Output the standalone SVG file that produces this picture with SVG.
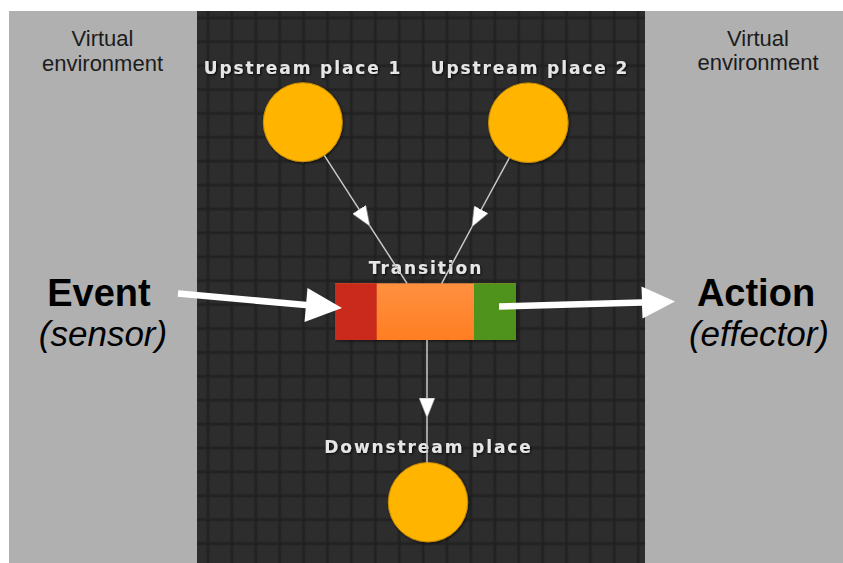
<svg xmlns="http://www.w3.org/2000/svg" width="843" height="563" viewBox="0 0 843 563">
<style>
.env{font-family:"Liberation Sans",Arial,sans-serif;font-size:22px;fill:#1c1c1c;text-anchor:middle}
.big{font-family:"Liberation Sans",Arial,sans-serif;font-size:38px;font-weight:bold;fill:#000;text-anchor:middle}
.sub{font-family:"Liberation Sans",Arial,sans-serif;font-size:35px;font-style:italic;fill:#000;text-anchor:middle}
.lbl{font-family:"DejaVu Sans",Verdana,sans-serif;font-size:17px;font-weight:bold;fill:#e6e6e6;text-anchor:middle;letter-spacing:1.9px;filter:url(#tshadow)}
.place{fill:#ffb400;stroke:#c88c00;stroke-width:1;filter:url(#shadow)}
.arc{fill:none;stroke:#c8c8c8;stroke-width:1.5;marker-mid:url(#ah)}
.big-arrow{fill:#ffffff}
</style>
<defs>
<pattern id="grid" patternUnits="userSpaceOnUse" x="196.05" y="29.75" width="23.9" height="23.9">
<rect width="23.9" height="23.9" fill="#2d2d2d"/>
<rect x="10.45" y="0" width="3" height="23.9" fill="#1f1f1f" opacity="0.75"/>
<rect x="0" y="10.45" width="23.9" height="3" fill="#1f1f1f" opacity="0.75"/>
</pattern>
<linearGradient id="og" x1="0" y1="0" x2="0" y2="1">
<stop offset="0" stop-color="#ff9040"/>
<stop offset="1" stop-color="#ff7e22"/>
</linearGradient>
<filter id="shadow" x="-20%" y="-20%" width="140%" height="140%">
<feDropShadow dx="1" dy="1" stdDeviation="1.5" flood-color="#000" flood-opacity="0.6"/>
</filter>
<filter id="tshadow" x="-10%" y="-30%" width="120%" height="160%">
<feDropShadow dx="1" dy="1" stdDeviation="0.8" flood-color="#000" flood-opacity="0.8"/>
</filter>
<marker id="ah" markerUnits="userSpaceOnUse" viewBox="0 0 20 16" markerWidth="20" markerHeight="16" refX="0" refY="8" orient="auto">
<path d="M0,0 L20,8 L0,16 Z" fill="#ffffff" stroke="#888" stroke-width="0.6"/>
</marker>
</defs>

<rect x="0" y="0" width="843" height="563" fill="#ffffff"/>
<rect x="9" y="11" width="834" height="552" fill="#b0b0b0"/>
<rect x="197" y="11" width="448" height="552" fill="url(#grid)"/>

<g id="env-left">
<text class="env" x="102.5" y="46">Virtual</text>
<text class="env" x="102.5" y="71">environment</text>
</g>
<g id="env-right">
<text class="env" x="758" y="45.5">Virtual</text>
<text class="env" x="758" y="70">environment</text>
</g>
<g id="event">
<text class="big" x="99" y="306">Event</text>
<text class="sub" x="103" y="346">(sensor)</text>
</g>
<g id="action">
<text class="big" x="756" y="306">Action</text>
<text class="sub" x="759" y="346">(effector)</text>
</g>

<g id="upstream1">
<text class="lbl" x="303" y="74">Upstream place 1</text>
<circle class="place" cx="302.8" cy="122.2" r="39.5"/>
</g>
<g id="upstream2">
<text class="lbl" x="530" y="74">Upstream place 2</text>
<circle class="place" cx="528.3" cy="122.7" r="39.8"/>
</g>
<g id="transition">
<text class="lbl" x="426" y="274">Transition</text>
<g filter="url(#shadow)">
<rect x="335" y="283.3" width="181" height="56.7" fill="url(#og)"/>
<rect x="335" y="283.3" width="41.7" height="56.7" fill="#c9291a"/>
<rect x="474" y="283.3" width="42" height="56.7" fill="#4f921c"/>
</g>
</g>
<g id="downstream">
<text class="lbl" x="428.5" y="453">Downstream place</text>
<circle class="place" cx="428" cy="502.2" r="39.7"/>
</g>

<g id="connectors">
<path class="arc" d="M324.3,155.3 L359.1,209.4 L407,283.3"/>
<path class="arc" d="M509.5,157.5 L481.3,209.5 L441.7,283.3"/>
<path class="arc" d="M427,340 L427,398 L427,462.5"/>
<polygon class="big-arrow" points="178.3,290.2 306.3,301.7 307.5,288.1 342,308 304.5,321.9 305.7,308.3 177.7,296.8"/>
<polygon class="big-arrow" points="499,303.2 642,299.2 641.5,286.5 675,301.6 642.5,318.5 642,305.8 499,309.8"/>
</g>
</svg>
